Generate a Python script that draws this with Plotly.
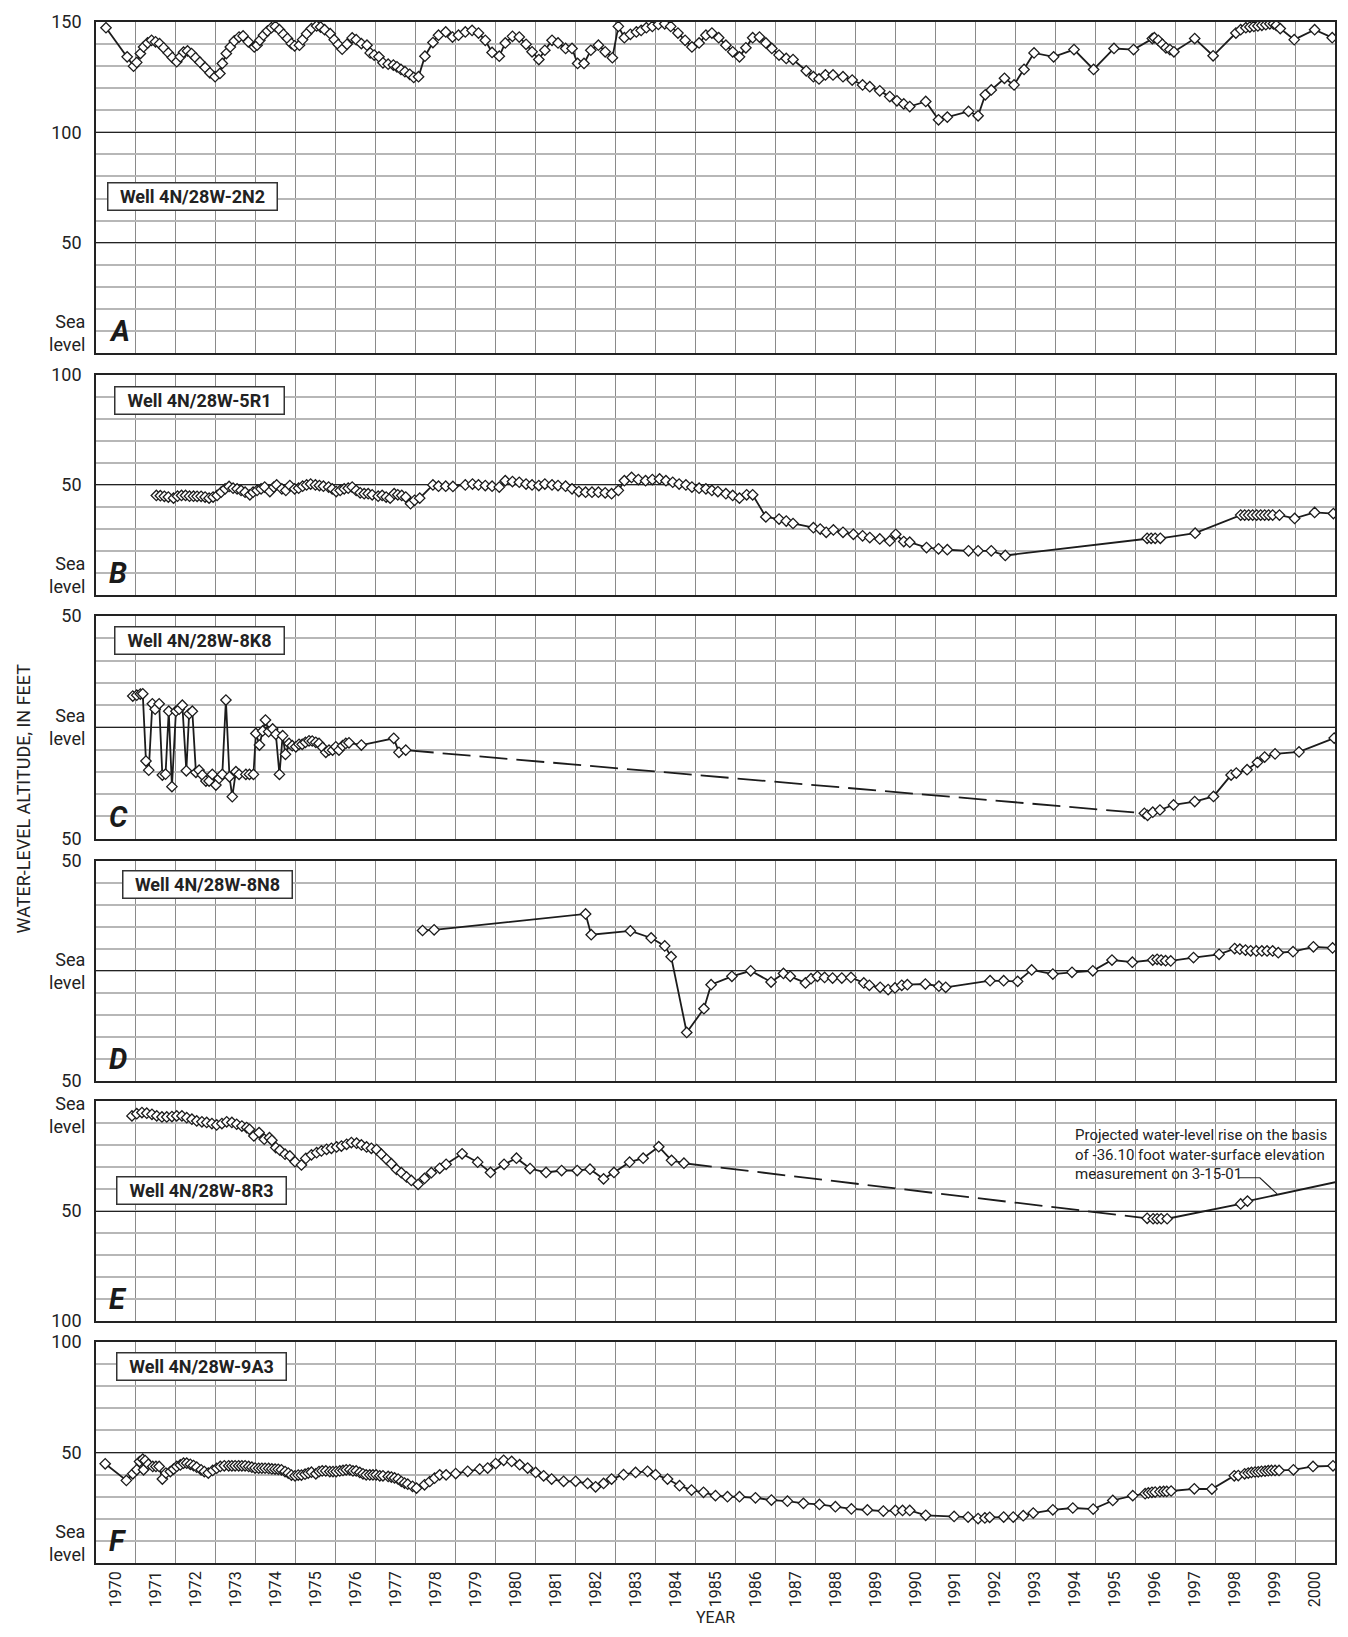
import plotly.graph_objects as go

FONT = "Roboto, 'DejaVu Sans Condensed', Arial, sans-serif"
INK = "#1c1c1c"

# ---------------- DATA ----------------
# Panel A  Well 4N/28W-2N2
a_year = [1970.25, 1970.78, 1970.94, 1971.02, 1971.11, 1971.19, 1971.29, 1971.39, 1971.49, 1971.59,
          1971.69, 1971.81, 1971.91, 1972.02, 1972.11, 1972.19, 1972.29, 1972.39, 1972.49, 1972.60,
          1972.73, 1972.85, 1972.98, 1973.10, 1973.16, 1973.26, 1973.36, 1973.46, 1973.58, 1973.68,
          1973.81, 1973.96, 1974.03, 1974.10, 1974.19, 1974.29, 1974.39, 1974.49, 1974.59, 1974.69,
          1974.79, 1974.89, 1974.97, 1975.09, 1975.17, 1975.27, 1975.39, 1975.52, 1975.62, 1975.72,
          1975.86, 1975.96, 1976.06, 1976.16, 1976.28, 1976.41, 1976.51, 1976.64, 1976.78, 1976.86,
          1976.96, 1977.08, 1977.18, 1977.31, 1977.44, 1977.53, 1977.63, 1977.73, 1977.85, 1977.95,
          1978.07, 1978.23, 1978.43, 1978.57, 1978.75, 1978.92, 1979.07, 1979.24, 1979.41, 1979.57,
          1979.74, 1979.91, 1980.09, 1980.24, 1980.42, 1980.59, 1980.76, 1980.91, 1981.08, 1981.23,
          1981.41, 1981.56, 1981.75, 1981.91, 1982.05, 1982.21, 1982.38, 1982.57, 1982.74, 1982.92,
          1983.07, 1983.22, 1983.37, 1983.52, 1983.64, 1983.77, 1983.92, 1984.07, 1984.23, 1984.38,
          1984.56, 1984.74, 1984.91, 1985.09, 1985.26, 1985.41, 1985.58, 1985.76, 1985.93, 1986.10,
          1986.26, 1986.43, 1986.60, 1986.76, 1986.91, 1987.09, 1987.27, 1987.44, 1987.77, 1987.95,
          1988.09, 1988.25, 1988.44, 1988.69, 1988.92, 1989.18, 1989.36, 1989.61, 1989.86, 1990.04,
          1990.21, 1990.36, 1990.76, 1991.08, 1991.30, 1991.83, 1992.07, 1992.25, 1992.40, 1992.73,
          1992.97, 1993.22, 1993.47, 1993.96, 1994.47, 1994.96, 1995.47, 1995.96, 1996.43, 1996.48,
          1996.58, 1996.68, 1996.77, 1996.87, 1996.97, 1997.49, 1997.95, 1998.52, 1998.64, 1998.77,
          1998.87, 1998.97, 1999.07, 1999.17, 1999.27, 1999.37, 1999.46, 1999.53, 1999.63, 1999.98,
          2000.49, 2000.93]
a_level = [147.4, 134.2, 130.0, 131.7, 135.7, 138.7, 140.5, 141.7, 141.0, 140.2,
           138.3, 136.0, 133.9, 132.0, 134.2, 136.3, 136.9, 135.7, 133.8, 131.8,
           129.4, 127.0, 125.2, 126.7, 131.2, 135.7, 138.7, 141.4, 143.2, 143.7,
           141.0, 138.7, 139.5, 141.7, 144.0, 145.9, 147.4, 148.0, 146.5, 144.4,
           142.5, 140.2, 139.2, 139.5, 142.0, 144.7, 147.0, 148.2, 147.7, 146.5,
           144.7, 142.0, 139.8, 137.7, 139.9, 142.8, 142.0, 140.2, 139.5, 136.0,
           135.0, 134.2, 131.5, 130.9, 130.5, 129.7, 128.5, 127.5, 126.3, 124.9,
           125.2, 134.5, 140.7, 144.0, 145.5, 143.2, 144.0, 145.5, 146.2, 145.0,
           141.7, 136.2, 134.5, 140.5, 143.5, 143.2, 139.9, 136.5, 133.0, 137.2,
           141.7, 140.5, 138.0, 138.0, 131.2, 131.2, 137.2, 139.5, 136.5, 133.8,
           148.0, 142.9, 144.4, 145.5, 146.2, 147.4, 148.0, 148.9, 149.2, 148.0,
           145.0, 141.7, 138.7, 140.5, 144.0, 145.0, 142.9, 139.5, 136.5, 134.2,
           138.3, 142.9, 143.2, 140.5, 138.0, 135.0, 133.5, 133.0, 127.9, 125.2,
           124.2, 126.0, 126.0, 125.2, 123.7, 121.5, 120.7, 118.8, 116.2, 114.3,
           112.9, 111.7, 114.0, 105.7, 106.9, 109.5, 107.5, 117.0, 119.2, 124.5,
           121.5, 128.5, 136.0, 134.2, 137.5, 128.5, 138.0, 137.5, 142.5, 142.9,
           141.7, 139.9, 138.3, 137.5, 136.5, 142.5, 134.7, 145.0, 146.5, 147.4,
           147.7, 148.0, 148.2, 148.5, 148.8, 149.2, 149.2, 148.5, 147.0, 142.0,
           146.5, 142.9]

# Panel B  Well 4N/28W-5R1
b_year = [1971.51, 1971.61, 1971.71, 1971.81, 1971.94, 1972.04, 1972.14, 1972.24, 1972.34, 1972.44,
          1972.53, 1972.63, 1972.73, 1972.83, 1972.93, 1973.03, 1973.13, 1973.23, 1973.33, 1973.43,
          1973.53, 1973.63, 1973.73, 1973.85, 1973.93, 1974.03, 1974.13, 1974.22, 1974.35, 1974.45,
          1974.52, 1974.65, 1974.75, 1974.85, 1974.97, 1975.07, 1975.17, 1975.27, 1975.37, 1975.49,
          1975.59, 1975.69, 1975.82, 1975.91, 1976.01, 1976.11, 1976.21, 1976.31, 1976.41, 1976.51,
          1976.61, 1976.71, 1976.81, 1976.91, 1977.06, 1977.16, 1977.26, 1977.36, 1977.46, 1977.55,
          1977.65, 1977.75, 1977.87, 1977.97, 1978.10, 1978.43, 1978.57, 1978.75, 1978.93, 1979.24,
          1979.42, 1979.57, 1979.74, 1979.91, 1980.09, 1980.24, 1980.42, 1980.59, 1980.76, 1980.91,
          1981.08, 1981.23, 1981.41, 1981.56, 1981.75, 1981.91, 1982.08, 1982.25, 1982.41, 1982.57,
          1982.74, 1982.90, 1983.07, 1983.22, 1983.40, 1983.57, 1983.75, 1983.92, 1984.10, 1984.26,
          1984.43, 1984.59, 1984.76, 1984.91, 1985.09, 1985.26, 1985.41, 1985.56, 1985.76, 1985.93,
          1986.10, 1986.28, 1986.43, 1986.76, 1987.09, 1987.27, 1987.44, 1987.95, 1988.12, 1988.27,
          1988.45, 1988.69, 1988.95, 1989.18, 1989.36, 1989.61, 1989.86, 1990.01, 1990.21, 1990.36,
          1990.78, 1991.08, 1991.30, 1991.83, 1992.07, 1992.40, 1992.75, 1996.30, 1996.40, 1996.50,
          1996.63, 1997.50, 1998.64, 1998.74, 1998.84, 1998.94, 1999.04, 1999.14, 1999.24, 1999.34,
          1999.44, 1999.61, 1999.99, 2000.49, 2000.96]
b_level = [45.2, 45.1, 44.8, 44.5, 44.0, 44.9, 45.2, 45.2, 44.9, 44.9,
           44.8, 44.8, 44.5, 44.0, 44.5, 45.2, 46.7, 48.2, 49.3, 48.5,
           48.2, 47.5, 46.7, 45.5, 46.7, 47.5, 48.2, 49.0, 47.0, 49.0,
           50.0, 48.2, 47.5, 49.7, 48.2, 48.5, 49.4, 50.0, 50.4, 50.0,
           49.7, 49.4, 49.0, 48.2, 47.0, 47.5, 48.2, 48.5, 49.0, 47.5,
           46.4, 46.0, 46.0, 45.5, 44.9, 45.2, 44.5, 44.0, 46.0, 45.5,
           45.2, 44.5, 41.5, 43.0, 44.0, 50.0, 49.4, 49.4, 49.3, 50.0,
           50.4, 50.0, 49.7, 49.4, 49.0, 51.9, 51.5, 51.2, 50.4, 50.0,
           49.7, 50.4, 50.0, 49.7, 49.4, 48.2, 47.0, 46.7, 46.7, 46.7,
           46.4, 46.0, 47.5, 51.9, 53.4, 52.4, 51.9, 52.4, 52.7, 51.9,
           51.2, 50.4, 50.0, 49.0, 48.5, 48.2, 47.5, 47.0, 46.0, 45.2,
           44.0, 45.5, 45.5, 35.5, 34.5, 33.6, 32.5, 30.6, 30.0, 28.5,
           29.6, 28.5, 27.6, 26.9, 26.1, 25.5, 24.6, 27.6, 24.3, 24.0,
           21.6, 21.0, 20.6, 20.1, 20.1, 20.1, 18.0, 25.8, 25.8, 25.8,
           25.8, 28.1, 36.3, 36.3, 36.3, 36.3, 36.3, 36.3, 36.3, 36.3,
           36.3, 36.3, 34.8, 37.5, 37.0]

# Panel C  Well 4N/28W-8K8 (before and after the gap in record)
c_year_early = [1970.92, 1971.02, 1971.11, 1971.17, 1971.25, 1971.32, 1971.41, 1971.48, 1971.58, 1971.66,
                1971.74, 1971.82, 1971.90, 1972.00, 1972.08, 1972.16, 1972.26, 1972.33, 1972.41, 1972.50,
                1972.58, 1972.66, 1972.75, 1972.83, 1972.91, 1973.00, 1973.08, 1973.16, 1973.25, 1973.34,
                1973.41, 1973.50, 1973.58, 1973.75, 1973.84, 1973.94, 1974.00, 1974.09, 1974.17, 1974.24,
                1974.32, 1974.42, 1974.50, 1974.59, 1974.67, 1974.74, 1974.83, 1974.91, 1975.00, 1975.08,
                1975.16, 1975.24, 1975.33, 1975.41, 1975.50, 1975.58, 1975.67, 1975.75, 1975.83, 1975.92,
                1976.00, 1976.08, 1976.17, 1976.25, 1976.33, 1976.64, 1977.45, 1977.58, 1977.75]
c_level_early = [14.1, 14.5, 15.0, 15.1, -15.1, -19.2, 10.6, 8.2, 10.6, -21.4,
                 -21.0, 7.3, -26.6, 7.3, 8.2, 10.0, -19.5, 6.1, 7.3, -20.2,
                 -19.2, -21.4, -24.1, -24.1, -21.1, -25.9, -22.9, -21.1, 12.3, -22.2,
                 -31.1, -19.9, -21.1, -21.1, -21.1, -21.1, -2.7, -7.9, -1.6, 3.3,
                 -1.9, -0.7, -3.1, -21.1, -3.7, -12.1, -7.2, -8.2, -8.7, -7.6,
                 -7.6, -6.7, -6.0, -6.1, -6.7, -7.2, -9.0, -11.2, -10.2, -10.2,
                 -8.7, -10.2, -8.2, -7.2, -6.9, -7.9, -4.9, -11.2, -10.2]
c_year_late = [1996.23, 1996.31, 1996.44, 1996.62, 1996.96, 1997.49, 1997.96, 1998.40, 1998.53, 1998.80,
               1999.06, 1999.24, 1999.50, 2000.10, 2000.98]
c_level_late = [-38.6, -39.5, -38.1, -37.1, -34.8, -33.3, -31.0, -21.4, -20.5, -19.0,
                -15.7, -13.3, -11.9, -11.0, -4.8]

# Panel D  Well 4N/28W-8N8
d_year = [1978.17, 1978.46, 1982.25, 1982.39, 1983.37, 1983.89, 1984.23, 1984.39, 1984.78, 1985.21,
          1985.39, 1985.91, 1986.38, 1986.89, 1987.20, 1987.37, 1987.75, 1987.89, 1988.05, 1988.23,
          1988.43, 1988.66, 1988.89, 1989.21, 1989.35, 1989.62, 1989.82, 1989.99, 1990.16, 1990.30,
          1990.75, 1991.09, 1991.26, 1992.37, 1992.71, 1993.06, 1993.41, 1993.94, 1994.42, 1994.94,
          1995.42, 1995.93, 1996.44, 1996.55, 1996.65, 1996.76, 1996.89, 1997.46, 1998.10, 1998.49,
          1998.62, 1998.76, 1998.89, 1999.03, 1999.17, 1999.30, 1999.44, 1999.58, 1999.95, 2000.46,
          2000.94]
d_level = [18.3, 18.6, 25.8, 16.4, 18.1, 14.9, 11.3, 6.4, -28.0, -17.2,
           -6.3, -2.5, 0.0, -5.1, -1.2, -2.5, -5.5, -3.6, -2.5, -3.0,
           -3.3, -3.3, -3.0, -5.5, -6.6, -7.5, -8.5, -7.8, -6.6, -6.3,
           -6.0, -7.0, -7.5, -4.5, -4.5, -4.8, 0.4, -1.5, -0.7, 0.0,
           4.9, 3.9, 4.9, 5.2, 4.9, 4.6, 4.5, 6.0, 7.5, 10.1,
           9.8, 9.4, 9.1, 9.0, 9.0, 9.0, 9.0, 8.2, 8.7, 10.9,
           10.4]

# Panel E  Well 4N/28W-8R3
e_year_early = [1970.90, 1971.02, 1971.15, 1971.27, 1971.40, 1971.52, 1971.65, 1971.77, 1971.90, 1972.02,
                1972.15, 1972.27, 1972.40, 1972.52, 1972.65, 1972.77, 1972.90, 1973.02, 1973.15, 1973.27,
                1973.40, 1973.52, 1973.65, 1973.77, 1973.84, 1973.95, 1974.08, 1974.21, 1974.34, 1974.40,
                1974.50, 1974.60, 1974.73, 1974.85, 1974.98, 1975.14, 1975.25, 1975.39, 1975.52, 1975.64,
                1975.77, 1975.89, 1976.02, 1976.14, 1976.27, 1976.39, 1976.52, 1976.64, 1976.77, 1976.89,
                1977.02, 1977.14, 1977.27, 1977.39, 1977.52, 1977.64, 1977.77, 1977.89, 1978.06, 1978.22,
                1978.39, 1978.60, 1978.76, 1979.16, 1979.55, 1979.87, 1980.21, 1980.52, 1980.86, 1981.26,
                1981.65, 1982.04, 1982.36, 1982.70, 1982.96, 1983.35, 1983.69, 1984.08, 1984.40, 1984.71]
e_level_early = [-6.8, -5.8, -5.3, -5.6, -6.1, -6.8, -7.3, -7.3, -7.1, -6.8,
                 -6.8, -7.6, -8.3, -9.1, -9.5, -9.8, -10.3, -10.9, -10.3, -9.5,
                 -9.8, -10.6, -11.4, -12.1, -12.9, -15.9, -14.4, -17.4, -16.7, -17.9,
                 -21.2, -22.4, -24.2, -25.0, -27.6, -29.1, -26.1, -24.5, -23.5, -22.7,
                 -22.0, -21.5, -20.9, -20.5, -19.7, -18.9, -19.2, -20.0, -20.9, -21.5,
                 -22.1, -24.2, -26.5, -28.5, -31.1, -32.6, -34.5, -36.1, -37.9, -35.2,
                 -32.6, -30.6, -28.8, -24.0, -27.8, -32.5, -28.8, -26.0, -30.7, -32.5,
                 -31.6, -31.6, -31.0, -35.4, -32.5, -27.8, -26.0, -20.8, -27.0, -28.3]
e_year_late = [1996.30, 1996.45, 1996.55, 1996.65, 1996.80, 1998.64, 1998.81]
e_level_late = [-53.3, -53.5, -53.5, -53.5, -53.5, -46.8, -45.5]
e_proj_year = [2001.21]
e_proj_level = [-36.10]

# Panel F  Well 4N/28W-9A3
f_year = [1970.23, 1970.76, 1970.92, 1971.02, 1971.09, 1971.17, 1971.19, 1971.23, 1971.31, 1971.42,
          1971.50, 1971.58, 1971.66, 1971.75, 1971.86, 1971.94, 1972.02, 1972.11, 1972.19, 1972.27,
          1972.36, 1972.44, 1972.52, 1972.63, 1972.71, 1972.81, 1972.92, 1973.02, 1973.11, 1973.21,
          1973.32, 1973.40, 1973.48, 1973.57, 1973.65, 1973.73, 1973.82, 1973.90, 1973.98, 1974.07,
          1974.15, 1974.23, 1974.32, 1974.40, 1974.48, 1974.56, 1974.64, 1974.73, 1974.81, 1974.89,
          1974.98, 1975.06, 1975.14, 1975.23, 1975.31, 1975.39, 1975.50, 1975.58, 1975.66, 1975.75,
          1975.85, 1975.93, 1976.01, 1976.10, 1976.18, 1976.26, 1976.35, 1976.43, 1976.51, 1976.60,
          1976.68, 1976.76, 1976.85, 1976.93, 1977.01, 1977.10, 1977.18, 1977.31, 1977.39, 1977.47,
          1977.56, 1977.64, 1977.72, 1977.80, 1977.92, 1978.02, 1978.22, 1978.35, 1978.47, 1978.60,
          1978.76, 1979.00, 1979.30, 1979.60, 1979.80, 1980.00, 1980.20, 1980.40, 1980.60, 1980.80,
          1981.00, 1981.20, 1981.40, 1981.70, 1982.00, 1982.30, 1982.50, 1982.70, 1982.90, 1983.20,
          1983.50, 1983.80, 1984.00, 1984.30, 1984.60, 1984.90, 1985.20, 1985.50, 1985.80, 1986.10,
          1986.50, 1986.90, 1987.30, 1987.70, 1988.10, 1988.50, 1988.90, 1989.30, 1989.70, 1990.00,
          1990.18, 1990.36, 1990.76, 1991.47, 1991.82, 1992.07, 1992.24, 1992.36, 1992.71, 1992.95,
          1993.20, 1993.45, 1993.94, 1994.44, 1994.95, 1995.44, 1995.94, 1996.25, 1996.33, 1996.42,
          1996.50, 1996.62, 1996.71, 1996.79, 1996.90, 1997.48, 1997.92, 1998.48, 1998.58, 1998.74,
          1998.83, 1998.91, 1999.00, 1999.08, 1999.16, 1999.25, 1999.33, 1999.41, 1999.50, 1999.60,
          1999.96, 2000.45, 2000.95]
f_level = [44.9, 37.4, 40.4, 42.2, 45.9, 47.0, 42.2, 46.4, 44.7, 43.7,
           43.7, 43.7, 38.0, 40.7, 41.4, 42.5, 43.7, 44.4, 45.2, 45.2,
           44.7, 44.1, 43.4, 42.2, 41.4, 40.7, 41.9, 42.9, 43.7, 44.0,
           44.0, 44.0, 44.0, 44.0, 44.0, 44.0, 43.7, 43.4, 43.0, 42.9,
           42.9, 42.9, 42.8, 42.6, 42.5, 42.4, 42.2, 41.4, 40.7, 39.8,
           39.5, 39.8, 39.8, 40.2, 40.7, 41.1, 40.4, 41.4, 41.7, 41.7,
           41.4, 41.4, 41.4, 41.7, 41.9, 42.2, 42.2, 41.7, 41.7, 41.0,
           40.4, 39.9, 39.9, 39.9, 39.9, 39.5, 39.5, 39.2, 38.9, 38.5,
           38.0, 36.9, 36.2, 35.7, 34.7, 33.9, 35.4, 36.9, 38.4, 39.9,
           39.9, 40.5, 41.5, 42.5, 43.0, 45.0, 46.5, 46.0, 44.5, 43.0,
           41.0, 39.5, 38.0, 37.0, 37.0, 36.0, 34.5, 36.0, 38.0, 40.0,
           41.0, 41.5, 40.0, 38.0, 35.0, 33.0, 32.0, 30.5, 30.0, 30.0,
           29.5, 28.5, 28.0, 27.0, 26.5, 25.5, 24.5, 24.0, 23.5, 23.8,
           23.8, 23.8, 21.6, 21.1, 20.8, 20.1, 20.4, 20.7, 20.8, 20.8,
           21.4, 22.6, 24.1, 24.9, 24.4, 28.3, 30.5, 31.4, 31.7, 32.0,
           32.1, 32.3, 32.4, 32.4, 32.6, 33.6, 33.5, 39.5, 39.6, 40.4,
           40.7, 41.0, 41.2, 41.3, 41.5, 41.6, 41.8, 41.9, 41.9, 41.9,
           42.2, 43.7, 44.0]

year_labels = [str(y) for y in range(1970, 2001)]

well_names = ["Well 4N/28W-2N2", "Well 4N/28W-5R1", "Well 4N/28W-8K8",
              "Well 4N/28W-8N8", "Well 4N/28W-8R3", "Well 4N/28W-9A3"]
panel_letters = ["A", "B", "C", "D", "E", "F"]
y_ranges = [[0, 150], [0, 100], [-50, 50], [-50, 50], [-100, 0], [0, 100]]
y_tickvals = [[0, 50, 100, 150], [0, 50, 100], [-50, 0, 50], [-50, 0, 50], [-100, -50, 0], [0, 50, 100]]
y_ticktext = [["", "50", "100", "150"], ["", "50", "100"], ["50", "", "50"], ["50", "", "50"],
              ["100", "50", ""], ["", "50", "100"]]

# ---------------- LAYOUT GEOMETRY ----------------
# page (screenshot) pixel geometry; the html body adds an 8 px offset
PAGE_OFF = 8
PLOT_L, PLOT_R, PLOT_T, PLOT_B = 95.7, 1336.7, 19.0, 1563.0
W, H = 1332, 1621
ML = PLOT_L - PAGE_OFF
MT = PLOT_T - PAGE_OFF
MR = W - (PLOT_R - PAGE_OFF)
MB = H - (PLOT_B - PAGE_OFF)
PW, PH = PLOT_R - PLOT_L, PLOT_B - PLOT_T

panel_px = [(19, 350.7), (372.3, 593.3), (614.3, 837.3), (859.3, 1080), (1100, 1320.7), (1341.7, 1563)]
label_box = [(107, 193.7), (114, 398), (114, 639), (121.7, 882.7), (116, 1189.7), (116, 1366)]
sea_anchor = ["bottom", "bottom", "middle", "middle", "top", "bottom"]


def px(x):
    return (x - PLOT_L) / PW


def py(y):
    return (PLOT_B - y) / PH


def sfx(i):
    return "" if i == 1 else str(i)


fig = go.Figure()

marker = dict(symbol="diamond", size=8, color="white", line=dict(color=INK, width=1.3))
line = dict(color=INK, width=1.8)


def add(xs, ys, i, mode="lines+markers", dash=None):
    ln = dict(line)
    if dash:
        ln["dash"] = dash
    fig.add_trace(go.Scatter(x=xs, y=ys, mode=mode, line=ln, marker=marker,
                             xaxis="x" + sfx(i), yaxis="y" + sfx(i), showlegend=False, hoverinfo="x+y"))


add(a_year, a_level, 1)
add(b_year, b_level, 2)
add([c_year_early[-1], c_year_late[0]], [c_level_early[-1], c_level_late[0]], 3, mode="lines", dash="28px,9px")
add(c_year_early, c_level_early, 3)
add(c_year_late, c_level_late, 3)
add(d_year, d_level, 4)
add([e_year_early[-1], e_year_late[0]], [e_level_early[-1], e_level_late[0]], 5, mode="lines", dash="28px,9px")
add([e_year_late[-1]] + e_proj_year, [e_level_late[-1]] + e_proj_level, 5, mode="lines")
add(e_year_early, e_level_early, 5)
add(e_year_late, e_level_late, 5)
add(f_year, f_level, 6)

tickfont = dict(family=FONT, size=18, color="#222")
xtickfont = dict(family=FONT, size=16, color="#222")
layout = dict(
    width=W, height=H, margin=dict(l=ML, r=MR, t=MT, b=MB, pad=0),
    paper_bgcolor="white", plot_bgcolor="white", showlegend=False,
    font=dict(family=FONT, color="#222"),
)
annotations = []
shapes = []
for i in range(1, 7):
    s = sfx(i)
    top, bot = panel_px[i - 1]
    layout["xaxis" + s] = dict(
        domain=[0, 1], anchor="y" + s, range=[1970, 2001],
        tickmode="array", tickvals=[y + 0.5 for y in range(1970, 2001)], ticktext=year_labels,
        showticklabels=(i == 6), tickangle=-90, ticks="", tickfont=xtickfont,
        showgrid=False, zeroline=False,
        minor=dict(tick0=1970, dtick=1, showgrid=True, gridcolor="#8a8a8a", gridwidth=1.3, ticks=""),
        showline=True, mirror=True, linecolor="#222", linewidth=1.6,
    )
    layout["yaxis" + s] = dict(
        domain=[py(bot), py(top)], anchor="x" + s, range=y_ranges[i - 1],
        tickmode="array", tickvals=y_tickvals[i - 1], ticktext=y_ticktext[i - 1],
        ticks="", tickfont=tickfont, ticklabelstandoff=9,
        showgrid=True, gridcolor="#222", gridwidth=1.4, zeroline=False,
        minor=dict(tick0=0, dtick=10, showgrid=True, gridcolor="#b7b7b7", gridwidth=1.7, ticks=""),
        showline=True, mirror=True, linecolor="#222", linewidth=1.6,
    )
    # well label box
    bx, by = label_box[i - 1]
    annotations.append(dict(
        text=f"<b>{well_names[i - 1]}</b>", xref="paper", yref="paper",
        x=px(bx), y=py(by), xanchor="left", yanchor="middle",
        showarrow=False, font=dict(family=FONT, size=18, color="#222"),
        bgcolor="white", bordercolor="#333", borderwidth=1.5, borderpad=3,
        width=162, height=20, align="center"))
    # panel letter
    annotations.append(dict(
        text=f"<b><i>{panel_letters[i - 1]}</i></b>", xref="paper", yref="y" + s + " domain",
        x=px(107), y=0, xanchor="left", yanchor="bottom", yshift=3,
        showarrow=False, font=dict(family=FONT, size=29, color="#1a1a1a")))
    # sea level label
    anc = sea_anchor[i - 1]
    yshift = {"bottom": -4, "middle": 0, "top": 10}[anc]
    annotations.append(dict(
        text="Sea<br>level", xref="paper", yref="y" + s, x=0, y=0,
        xanchor="right", yanchor=anc, xshift=-9, yshift=yshift, align="right",
        showarrow=False, font=dict(family=FONT, size=18, color="#222")))

# projection note on panel E
annotations.append(dict(
    text="Projected water-level rise on the basis<br>of -36.10 foot water-surface elevation<br>measurement on 3-15-01",
    xref="paper", yref="paper", x=px(1074), y=py(1123),
    xanchor="left", yanchor="top", align="left", showarrow=False,
    font=dict(family=FONT, size=15, color="#222")))
shapes.append(dict(type="path", xref="x5", yref="y5",
                   path="M 1998.57 -34.9 L 1999.12 -34.9 L 1999.55 -42.2",
                   line=dict(color="#222", width=1.2)))

# axis titles
annotations.append(dict(text="WATER-LEVEL ALTITUDE, IN FEET", xref="paper", yref="paper",
                        x=px(23.5), y=py(797), xanchor="center", yanchor="middle",
                        textangle=-90, showarrow=False, font=dict(family=FONT, size=18, color="#222")))
annotations.append(dict(text="YEAR", xref="paper", yref="paper",
                        x=px(716), y=py(1618), xanchor="center", yanchor="middle",
                        showarrow=False, font=dict(family=FONT, size=16, color="#222")))

layout["annotations"] = annotations
layout["shapes"] = shapes
fig.update_layout(**layout)
fig.write_html("out.html")
